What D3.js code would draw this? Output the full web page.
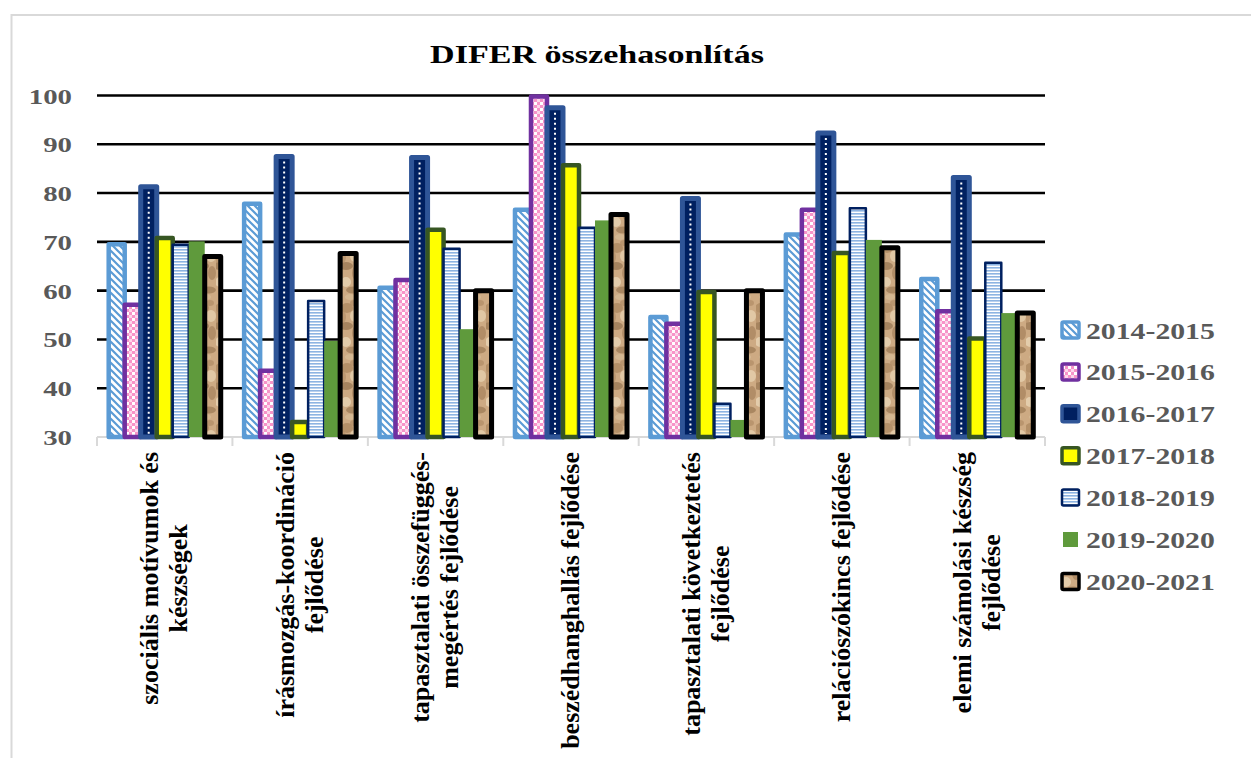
<!DOCTYPE html>
<html><head><meta charset="utf-8">
<script src="https://cdn.jsdelivr.net/npm/d3@7"></script>
<style>body{margin:0;background:#fff}svg{display:block}</style>
</head><body>
<svg id="chart" width="1251" height="758"></svg>
<script>
// ---- data ----
const categories = [
  ["szociális motívumok és", "készségek"],
  ["írásmozgás-koordináció", "fejlődése"],
  ["tapasztalati összefüggés-", "megértés fejlődése"],
  ["beszédhanghallás fejlődése"],
  ["tapasztalati következtetés", "fejlődése"],
  ["relációszókincs fejlődése"],
  ["elemi számolási készség", "fejlődése"]
];
const seriesNames = ["2014-2015", "2015-2016", "2016-2017", "2017-2018", "2018-2019", "2019-2020", "2020-2021"];
const v2014_2015 = [69.5, 77.8, 60.6, 76.6, 54.6, 71.5, 62.4];
const v2015_2016 = [57.1, 43.6, 62.2, 99.8, 53.2, 76.6, 55.8];
const v2016_2017 = [81.3, 87.5, 87.3, 97.5, 78.9, 92.3, 83.2];
const v2017_2018 = [70.8, 33.1, 72.5, 85.7, 59.7, 67.7, 50.2];
const v2018_2019 = [69.4, 57.9, 68.6, 72.9, 36.8, 76.9, 65.7];
const v2019_2020 = [70.1, 49.7, 52.1, 74.4, 33.5, 70.4, 55.4];
const v2020_2021 = [67.0, 67.6, 60.0, 75.6, 60.0, 68.8, 55.4];
const seriesValues = [v2014_2015, v2015_2016, v2016_2017, v2017_2018, v2018_2019, v2019_2020, v2020_2021];
const yTicks = [30, 40, 50, 60, 70, 80, 90, 100];
const chartTitle = "DIFER összehasonlítás";

// ---- styles ----
const styles = [
  {fill: "url(#pDiag)", stroke: "#5B9BD5", sw: 4.5},
  {fill: "url(#pPink)", stroke: "#7030A0", sw: 4.5},
  {fill: "#002060", stroke: "#2F5597", sw: 5},
  {fill: "#FFFF00", stroke: "#375623", sw: 4.5},
  {fill: "url(#pHoriz)", stroke: "#002060", sw: 2.5},
  {fill: "#5F9A3C", stroke: "none", sw: 0},
  {fill: "url(#pWood)", stroke: "#000000", sw: 5}
];
const FONT = "'Liberation Serif','Times New Roman',serif";

const svg = d3.select("#chart");
svg.append("rect").attr("width", 1251).attr("height", 758).attr("fill", "#fff");

// ---- patterns ----
const defs = svg.append("defs");
const pd = defs.append("pattern").attr("id", "pDiag").attr("patternUnits", "userSpaceOnUse").attr("width", 7).attr("height", 7);
pd.append("rect").attr("width", 7).attr("height", 7).attr("fill", "#fff");
pd.append("path").attr("d", "M-1,-1 L8,8 M-1,6 L1,8 M6,-1 L8,1").attr("stroke", "#5B9BD5").attr("stroke-width", 2.2);

const pp = defs.append("pattern").attr("id", "pPink").attr("patternUnits", "userSpaceOnUse").attr("width", 6).attr("height", 6);
pp.append("rect").attr("width", 6).attr("height", 6).attr("fill", "#F794C8");
pp.append("rect").attr("width", 3).attr("height", 3).attr("fill", "#fff");
pp.append("rect").attr("x", 3).attr("y", 3).attr("width", 3).attr("height", 3).attr("fill", "#fbd6ea");

const ph = defs.append("pattern").attr("id", "pHoriz").attr("patternUnits", "userSpaceOnUse").attr("width", 6).attr("height", 3);
ph.append("rect").attr("width", 6).attr("height", 3).attr("fill", "#fff");
ph.append("rect").attr("width", 6).attr("height", 1.6).attr("fill", "#8DB4E2");

const pw = defs.append("pattern").attr("id", "pWood").attr("patternUnits", "userSpaceOnUse").attr("width", 18).attr("height", 60);
pw.append("rect").attr("width", 18).attr("height", 60).attr("fill", "#CDAA83");
[[5,8,6,5,"#A07A52",0.55],[13,16,5,6,"#E6CFAE",0.8],[4,26,7,4,"#7F5D3B",0.5],[14,33,4,7,"#9E7A55",0.6],
 [4,42,5,5,"#E9D4B5",0.8],[11,50,7,3.5,"#86633F",0.5],[1,17,3,6,"#B08C66",0.6],[12,3,4,3,"#A58059",0.5],
 [8,57,5,3,"#D8BC97",0.7]]
 .forEach(e => pw.append("ellipse").attr("cx", e[0]).attr("cy", e[1]).attr("rx", e[2]).attr("ry", e[3]).attr("fill", e[4]).attr("opacity", e[5]));

// ---- frame ----
svg.append("path").attr("d", "M11.5,758 L11.5,15 L1251,15").attr("fill", "none").attr("stroke", "#D9D9D9").attr("stroke-width", 2);

// ---- scales ----
const x0 = d3.scaleBand().domain(d3.range(categories.length)).range([97, 1045]).padding(0);
const gapHalf = 11.7;
const x1 = d3.scaleBand().domain(d3.range(seriesNames.length)).range([gapHalf, x0.bandwidth() - gapHalf]).padding(0);
const y = d3.scaleLinear().domain([30, 100]).range([437, 95.5]);

// gridlines
svg.append("g").selectAll("line").data(yTicks.filter(t => t > 30)).join("line")
  .attr("x1", 97).attr("x2", 1045).attr("y1", d => y(d)).attr("y2", d => y(d))
  .attr("stroke", "#000").attr("stroke-width", 2.6);

// baseline axis
svg.append("line").attr("x1", 97).attr("x2", 1045).attr("y1", y(30)).attr("y2", y(30)).attr("stroke", "#D9D9D9").attr("stroke-width", 2);
svg.append("g").selectAll("line").data(d3.range(categories.length + 1)).join("line")
  .attr("x1", d => 97 + d * x0.bandwidth()).attr("x2", d => 97 + d * x0.bandwidth())
  .attr("y1", y(30)).attr("y2", y(30) + 9).attr("stroke", "#D9D9D9").attr("stroke-width", 2);

// y labels
svg.append("g").selectAll("text").data(yTicks).join("text")
  .attr("transform", d => `translate(72,${y(d) + 8}) scale(1.31,1)`)
  .attr("text-anchor", "end").attr("font-family", FONT).attr("font-weight", "bold")
  .attr("font-size", 22).attr("fill", "#595959").text(d => d);

// bars
seriesValues.forEach((vals, si) => {
  const st = styles[si];
  const g = svg.append("g");
  g.selectAll("rect").data(vals).join("rect")
    .attr("x", (d, ci) => x0(ci) + x1(si))
    .attr("width", x1.bandwidth())
    .attr("y", d => y(d))
    .attr("height", d => y(30) - y(d))
    .attr("fill", st.fill)
    .attr("stroke", st.stroke)
    .attr("stroke-width", st.sw)
    .attr("stroke-linejoin", "round");
  if (si === 2) {
    g.selectAll("line").data(vals).join("line")
      .attr("x1", (d, ci) => x0(ci) + x1(si) + x1.bandwidth() / 2)
      .attr("x2", (d, ci) => x0(ci) + x1(si) + x1.bandwidth() / 2)
      .attr("y1", d => y(d) + 5).attr("y2", y(30) - 3)
      .attr("stroke", "#fff").attr("stroke-width", 2).attr("stroke-dasharray", "2,3");
  }
});

// title
svg.append("text").attr("transform", "translate(597,63) scale(1.31,1)")
  .attr("text-anchor", "middle").attr("font-family", FONT).attr("font-weight", "bold")
  .attr("font-size", 26).attr("fill", "#000").text(chartTitle);

// x labels
const lineGap = 29;
categories.forEach((lines, ci) => {
  const cx = x0(ci) + x0.bandwidth() / 2;
  const t = svg.append("text").attr("font-family", FONT).attr("font-weight", "bold")
    .attr("font-size", 26).attr("fill", "#000").attr("text-anchor", "middle");
  const tspans = lines.map((ln, li) => t.append("tspan").text(ln));
  const maxW = d3.max(tspans, s => s.node().getComputedTextLength());
  t.attr("transform", `translate(${cx},452) rotate(-90)`);
  tspans.forEach((s, li) => s.attr("x", -maxW / 2).attr("y", (li - (lines.length - 1) / 2) * lineGap + 8));
});

// legend
const legY0 = 330, legStep = 41.9;
const leg = svg.append("g");
seriesNames.forEach((name, si) => {
  const st = styles[si];
  const cy = legY0 + si * legStep;
  if (si === 5) {
    leg.append("rect").attr("x", 1063).attr("y", cy - 7.5).attr("width", 15).attr("height", 15).attr("fill", st.fill);
  } else {
    leg.append("rect").attr("x", 1062).attr("y", cy - 8).attr("width", 17).attr("height", 16)
      .attr("rx", 1.5).attr("fill", st.fill).attr("stroke", st.stroke).attr("stroke-width", Math.min(st.sw, 3.5));
  }
  leg.append("text").attr("transform", `translate(1086,${cy + 8.5}) scale(1.24,1)`)
    .attr("font-family", FONT).attr("font-weight", "bold").attr("font-size", 24).attr("fill", "#595959").text(name);
});
</script>
</body></html>
